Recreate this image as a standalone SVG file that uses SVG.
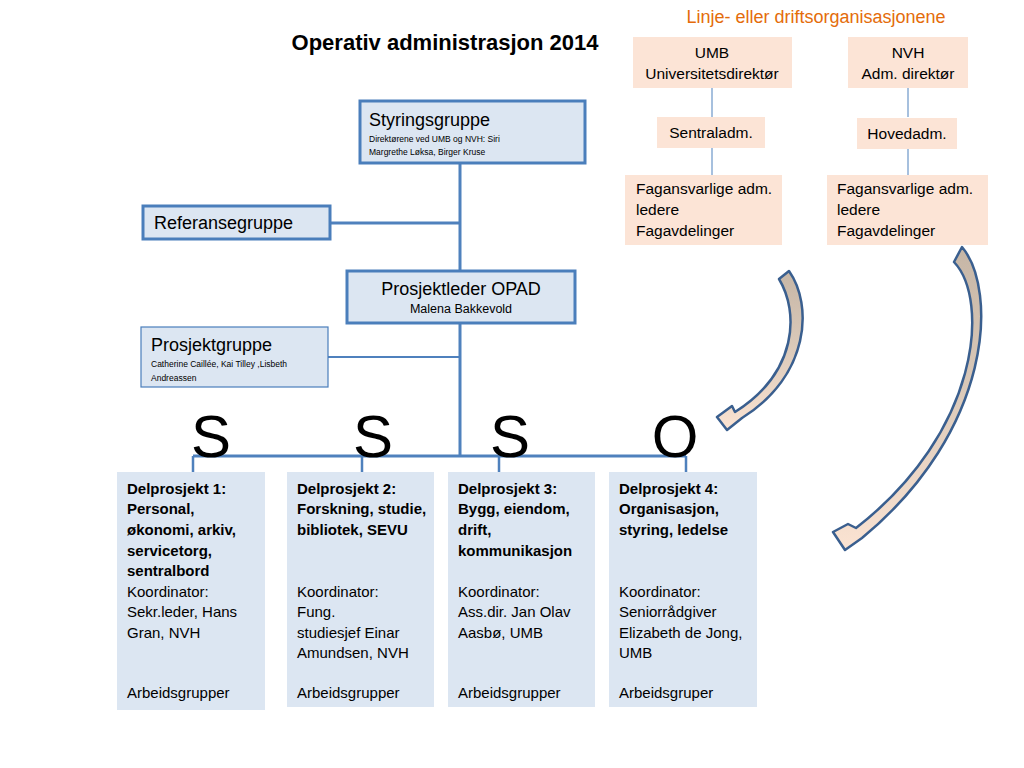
<svg xmlns="http://www.w3.org/2000/svg" width="1024" height="768" viewBox="0 0 1024 768">
<defs>
<style>
text{font-family:"Liberation Sans",Arial,sans-serif;fill:#000}
.blue{fill:#DCE6F2;stroke:#4A7EBB;stroke-width:3}
.thin{fill:#DCE6F2;stroke:#4A7EBB;stroke-width:1.2}
.peach{fill:#FCE4D6}
.dp{fill:#DCE6F2}
.big{font-size:18px}
.small{font-size:8.5px}
.med{font-size:12.5px}
.line{font-size:15.5px}
.b{font-size:15px;font-weight:bold}
.r{font-size:15px}
.letter{font-size:60px}
.conn{stroke:#4F81BD;fill:none}
.arrow{stroke:#3A5F8F;stroke-width:2.5;stroke-linejoin:round}
</style>
<linearGradient id="ag" x1="0" y1="0" x2="0" y2="1">
<stop offset="0" stop-color="#C6B6A6"/>
<stop offset="0.45" stop-color="#D9C8B8"/>
<stop offset="1" stop-color="#FBE3D2"/>
</linearGradient>
</defs>
<rect width="1024" height="768" fill="#fff"/>

<text x="445" y="50" text-anchor="middle" style="font-size:22px;font-weight:bold">Operativ administrasjon 2014</text>
<text x="816" y="23" text-anchor="middle" style="font-size:18px;fill:#E46C0A">Linje- eller driftsorganisasjonene</text>

<g id="connectors">
<path class="conn" stroke-width="1" d="M712 88V117M712 148V175M908 88V117M908 149V175"/>
<path class="conn" stroke-width="3" d="M460 163V456M330 223H460M193 456H686"/>
<path class="conn" stroke-width="2" d="M328 357H460"/>
<path class="conn" stroke-width="2.5" d="M193 456V472M362 456V472M499 456V472M686 456V472"/>
</g>

<g id="umb"><rect class="peach" x="633" y="37" width="159" height="51"/>
<text x="712" y="58" text-anchor="middle" class="line">UMB</text>
<text x="712" y="79" text-anchor="middle" class="line">Universitetsdirektør</text></g>
<g id="nvh"><rect class="peach" x="848" y="37" width="120" height="51"/>
<text x="908" y="58" text-anchor="middle" class="line">NVH</text>
<text x="908" y="79" text-anchor="middle" class="line">Adm. direktør</text></g>
<g id="sentraladm"><rect class="peach" x="657" y="117" width="108" height="31"/>
<text x="711" y="138" text-anchor="middle" class="line">Sentraladm.</text></g>
<g id="hovedadm"><rect class="peach" x="857" y="118" width="100" height="31"/>
<text x="907" y="139" text-anchor="middle" class="line">Hovedadm.</text></g>
<g id="fag-umb"><rect class="peach" x="625" y="175" width="157" height="70"/>
<text x="636" y="194" class="line">Fagansvarlige adm.</text>
<text x="636" y="215" class="line">ledere</text>
<text x="636" y="236" class="line">Fagavdelinger</text></g>
<g id="fag-nvh"><rect class="peach" x="827" y="175" width="161" height="70"/>
<text x="837" y="194" class="line">Fagansvarlige adm.</text>
<text x="837" y="215" class="line">ledere</text>
<text x="837" y="236" class="line">Fagavdelinger</text></g>

<g id="styringsgruppe"><rect class="blue" x="360" y="101" width="225" height="62"/>
<text x="369" y="126" class="big">Styringsgruppe</text>
<text x="369" y="142" class="small">Direktørene ved UMB og NVH: Siri</text>
<text x="369" y="155" class="small">Margrethe Løksa, Birger Kruse</text></g>

<g id="referansegruppe"><rect class="blue" x="143" y="206" width="187" height="33"/>
<text x="154" y="229" class="big">Referansegruppe</text></g>

<g id="prosjektleder"><rect class="blue" x="347" y="271" width="228" height="52"/>
<text x="461" y="295" text-anchor="middle" class="big">Prosjektleder OPAD</text>
<text x="461" y="313" text-anchor="middle" class="med">Malena Bakkevold</text></g>

<g id="prosjektgruppe"><rect class="thin" x="141" y="327" width="187" height="60"/>
<text x="151" y="351" class="big">Prosjektgruppe</text>
<text x="151" y="367" class="small">Catherine Caillée, Kai Tilley ,Lisbeth</text>
<text x="151" y="381" class="small">Andreassen</text></g>

<g id="letters">
<text x="211" y="457" text-anchor="middle" class="letter">S</text>
<text x="373" y="457" text-anchor="middle" class="letter">S</text>
<text x="510" y="457" text-anchor="middle" class="letter">S</text>
<text x="675" y="457" text-anchor="middle" class="letter">O</text>
</g>

<g id="delprosjekt1"><rect class="dp" x="117" y="472" width="148" height="238"/>
<text x="127" y="494" class="b">Delprosjekt 1:</text>
<text x="127" y="514" class="b">Personal,</text>
<text x="127" y="535" class="b">økonomi, arkiv,</text>
<text x="127" y="556" class="b">servicetorg,</text>
<text x="127" y="576" class="b">sentralbord</text>
<text x="127" y="597" class="r">Koordinator:</text>
<text x="127" y="617" class="r">Sekr.leder, Hans</text>
<text x="127" y="638" class="r">Gran, NVH</text>
<text x="127" y="698" class="r">Arbeidsgrupper</text></g>

<g id="delprosjekt2"><rect class="dp" x="287" y="472" width="147" height="235"/>
<text x="297" y="494" class="b">Delprosjekt 2:</text>
<text x="297" y="514" class="b">Forskning, studie,</text>
<text x="297" y="535" class="b">bibliotek, SEVU</text>
<text x="297" y="597" class="r">Koordinator:</text>
<text x="297" y="617" class="r">Fung.</text>
<text x="297" y="638" class="r">studiesjef Einar</text>
<text x="297" y="658" class="r">Amundsen, NVH</text>
<text x="297" y="698" class="r">Arbeidsgrupper</text></g>

<g id="delprosjekt3"><rect class="dp" x="448" y="472" width="147" height="235"/>
<text x="458" y="494" class="b">Delprosjekt 3:</text>
<text x="458" y="514" class="b">Bygg, eiendom,</text>
<text x="458" y="535" class="b">drift,</text>
<text x="458" y="556" class="b">kommunikasjon</text>
<text x="458" y="597" class="r">Koordinator:</text>
<text x="458" y="617" class="r">Ass.dir. Jan Olav</text>
<text x="458" y="638" class="r">Aasbø, UMB</text>
<text x="458" y="698" class="r">Arbeidsgrupper</text></g>

<g id="delprosjekt4"><rect class="dp" x="609" y="472" width="148" height="235"/>
<text x="619" y="494" class="b">Delprosjekt 4:</text>
<text x="619" y="514" class="b">Organisasjon,</text>
<text x="619" y="535" class="b">styring, ledelse</text>
<text x="619" y="597" class="r">Koordinator:</text>
<text x="619" y="617" class="r">Seniorrådgiver</text>
<text x="619" y="638" class="r">Elizabeth de Jong,</text>
<text x="619" y="658" class="r">UMB</text>
<text x="619" y="698" class="r">Arbeidsgruper</text></g>

<g id="arrows">
<path class="arrow" fill="url(#ag)" d="M779 279 L789 271 C813 305 810 375 742 418 L727 430 L717 417 L732 406 L735 412 C798 372 799 312 779 279 Z"/>
<path class="arrow" fill="url(#ag)" d="M954 262 L962 247 C998 290 993 430 862 538 L845 550 L833 532 L848 524 L856 528 C980 432 990 300 954 262 Z"/>
</g>
</svg>
